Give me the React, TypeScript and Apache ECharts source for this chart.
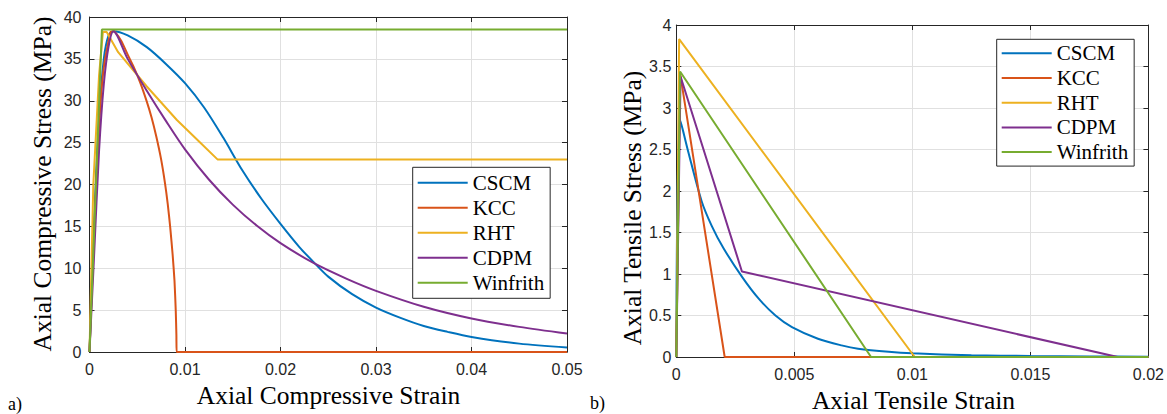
import React, { useEffect, useRef } from "react";
import * as echarts from "echarts";

// ---------- Data ----------
const seriesNames = ["CSCM", "KCC", "RHT", "CDPM", "Winfrith"];
const seriesColors = ["#0072BD", "#D95319", "#EDB120", "#7E2F8E", "#77AC30"];

// a) compressive
const cscmCx = [0, 0.0005, 0.001, 0.0015, 0.002, 0.0025, 0.004, 0.006, 0.008, 0.01, 0.012, 0.014, 0.016, 0.018, 0.02, 0.022, 0.0235, 0.025, 0.0275, 0.03, 0.0325, 0.035, 0.0375, 0.04, 0.045, 0.05];
const cscmCy = [0, 16, 28, 35, 37.8, 38.3, 37.8, 36.4, 34.4, 32.1, 29.2, 25.6, 21.7, 18.3, 15.3, 12.5, 10.7, 9.0, 6.9, 5.3, 4.1, 3.1, 2.4, 1.8, 1.0, 0.55];
const kccCx = [0, 0.0005, 0.001, 0.0015, 0.0022, 0.0025, 0.0033, 0.004, 0.0046, 0.0053, 0.006, 0.0065, 0.007, 0.0075, 0.0079, 0.0082, 0.00845, 0.0087, 0.0089, 0.00903, 0.0091, 0.00912, 0.05];
const kccCy = [0, 15, 27, 34, 38.2, 38.3, 37.2, 35.5, 34.1, 32.2, 29.9, 28.0, 25.7, 23.0, 20.2, 17.6, 14.9, 11.7, 8.5, 5.0, 2.0, 0, 0];
const rhtCx = [0, 0.0004, 0.001, 0.0014, 0.0018, 0.003, 0.006, 0.00915, 0.0115, 0.0134, 0.05];
const rhtCy = [0, 20, 33, 38.2, 38.2, 35.8, 31.7, 27.7, 25.1, 23, 23];
const cdpmCx = [0, 0.0005, 0.001, 0.0015, 0.002, 0.0025, 0.004, 0.006, 0.008, 0.01, 0.0125, 0.015, 0.0175, 0.02, 0.0235, 0.027, 0.03, 0.035, 0.04, 0.045, 0.05];
const cdpmCy = [0, 12, 24, 32, 36.5, 38.3, 35.0, 31.2, 27.6, 24.2, 20.6, 17.6, 15.1, 13.0, 10.6, 8.7, 7.3, 5.4, 4.0, 3.0, 2.2];
const winCx = [0, 0.0013, 0.05];
const winCy = [0, 38.5, 38.5];

// b) tensile
const cscmTx = [0, 0.00016, 0.0005, 0.00107, 0.0015, 0.002, 0.0028, 0.0035, 0.0042, 0.0049, 0.006, 0.007, 0.0077, 0.009, 0.01, 0.0125, 0.015, 0.0175, 0.02];
const cscmTy = [0, 2.86, 2.48, 1.88, 1.58, 1.31, 0.96, 0.70, 0.50, 0.36, 0.22, 0.14, 0.10, 0.062, 0.044, 0.022, 0.012, 0.007, 0.004];
const kccTx = [0, 0.00016, 0.00205, 0.02];
const kccTy = [0, 3.42, 0, 0];
const rhtTx = [0, 0.00012, 0.0101, 0.02];
const rhtTy = [0, 3.83, 0, 0];
const cdpmTx = [0, 0.00018, 0.00278, 0.0187, 0.02];
const cdpmTy = [0, 3.38, 1.03, 0, 0];
const winTx = [0, 0.00016, 0.00825, 0.02];
const winTy = [0, 3.44, 0, 0];

const compX = [cscmCx, kccCx, rhtCx, cdpmCx, winCx];
const compY = [cscmCy, kccCy, rhtCy, cdpmCy, winCy];
const tensX = [cscmTx, kccTx, rhtTx, cdpmTx, winTx];
const tensY = [cscmTy, kccTy, rhtTy, cdpmTy, winTy];
// which curves are smooth (curved) rather than piecewise linear
const compSmooth = [0.3, 0.2, 0, 0.3, 0];
const tensSmooth = [0.3, 0, 0, 0, 0];

const zip = (xs: number[], ys: number[]) => xs.map((x, i) => [x, ys[i]]);

const SERIF = "'Liberation Serif', 'Times New Roman', serif";
const SANS = "'Liberation Sans', Arial, sans-serif";
const AX = "#262626";
const GRID = "#e0e0e0";

export default function App() {
  const ref = useRef<HTMLDivElement>(null);
  useEffect(() => {
    if (!ref.current) return;
    const chart = echarts.init(ref.current, undefined, { renderer: "svg" });

    const mainX = (gi: number, max: number, interval: number) => ({
      type: "value",
      gridIndex: gi,
      min: 0,
      max,
      interval,
      position: "bottom",
      axisLine: { show: true, onZero: false, lineStyle: { color: AX, width: 1 } },
      axisTick: { show: true, inside: true, length: 5, lineStyle: { color: AX } },
      axisLabel: { show: true, margin: 9, fontFamily: SANS, fontSize: 16, color: AX },
      splitLine: { show: true, lineStyle: { color: GRID, width: 1 } },
    });
    const mainY = (gi: number, max: number, interval: number, margin: number) => ({
      type: "value",
      gridIndex: gi,
      min: 0,
      max,
      interval,
      position: "left",
      axisLine: { show: true, onZero: false, lineStyle: { color: AX, width: 1 } },
      axisTick: { show: true, inside: true, length: 5, lineStyle: { color: AX } },
      axisLabel: { show: true, margin, fontFamily: SANS, fontSize: 16, color: AX },
      splitLine: { show: true, lineStyle: { color: GRID, width: 1 } },
    });
    const boxX = (gi: number, max: number, interval: number) => ({
      type: "value",
      gridIndex: gi,
      min: 0,
      max,
      interval,
      position: "top",
      axisLine: { show: true, onZero: false, lineStyle: { color: AX, width: 1 } },
      axisTick: { show: true, inside: true, length: 5, lineStyle: { color: AX } },
      axisLabel: { show: false },
      splitLine: { show: false },
    });
    const boxY = (gi: number, max: number, interval: number) => ({
      type: "value",
      gridIndex: gi,
      min: 0,
      max,
      interval,
      position: "right",
      axisLine: { show: true, onZero: false, lineStyle: { color: AX, width: 1 } },
      axisTick: { show: true, inside: true, length: 5, lineStyle: { color: AX } },
      axisLabel: { show: false },
      splitLine: { show: false },
    });

    const series: any[] = [];
    seriesNames.forEach((name, i) => {
      series.push({
        name,
        type: "line",
        xAxisIndex: 0,
        yAxisIndex: 0,
        data: zip(compX[i], compY[i]),
        showSymbol: false,
        symbol: "none",
        smooth: compSmooth[i] || false,
        lineStyle: { color: seriesColors[i], width: 2 },
        itemStyle: { color: seriesColors[i] },
        z: 2 + i,
      });
    });
    seriesNames.forEach((name, i) => {
      series.push({
        name,
        type: "line",
        xAxisIndex: 2,
        yAxisIndex: 2,
        data: zip(tensX[i], tensY[i]),
        showSymbol: false,
        symbol: "none",
        smooth: tensSmooth[i] || false,
        lineStyle: { color: seriesColors[i], width: 2 },
        itemStyle: { color: seriesColors[i] },
        z: 2 + i,
      });
    });

    const legendBase = {
      orient: "vertical",
      data: seriesNames,
      icon: "rect",
      itemWidth: 50,
      itemHeight: 2,
      borderColor: AX,
      borderWidth: 1,
      backgroundColor: "#ffffff",
      selectedMode: false,
      textStyle: { fontFamily: SERIF, fontSize: 21, color: "#000" },
    };

    const titleStyle = (text: string, size = 25.5) => ({
      text,
      fontFamily: SERIF,
      fontSize: size,
      fill: "#000",
      textAlign: "center",
      textVerticalAlign: "middle",
      align: "center",
      verticalAlign: "middle",
    });

    chart.setOption({
      animation: false,
      backgroundColor: "#ffffff",
      grid: [
        { left: 89.5, top: 17, width: 477.5, height: 335, containLabel: false },
        { left: 676.3, top: 25, width: 474.4, height: 332, containLabel: false },
      ],
      xAxis: [mainX(0, 0.05, 0.01), boxX(0, 0.05, 0.01), mainX(1, 0.02, 0.005), boxX(1, 0.02, 0.005)],
      yAxis: [mainY(0, 40, 5, 8), boxY(0, 40, 5), mainY(1, 4, 0.5, 5), boxY(1, 4, 0.5)],
      legend: [
        { ...legendBase, left: 412.7, top: 167.3, itemGap: 4, padding: [5, 6, 5, 5] },
        { ...legendBase, left: 996.7, top: 39.3, itemGap: 3.7, padding: [3.5, 6, 3.5, 5] },
      ],
      series,
      graphic: [
        { type: "text", x: 42, y: 184, rotation: Math.PI / 2, style: titleStyle("Axial Compressive Stress (MPa)") },
        { type: "text", x: 632, y: 208, rotation: Math.PI / 2, style: titleStyle("Axial Tensile Stress (MPa)") },
        { type: "text", x: 328.5, y: 395, style: titleStyle("Axial Compressive Strain") },
        { type: "text", x: 913.5, y: 400, style: titleStyle("Axial Tensile Strain") },
        { type: "text", x: 8, y: 404, style: { ...titleStyle("a)", 18), textAlign: "left", align: "left" } },
        { type: "text", x: 590, y: 403, style: { ...titleStyle("b)", 18), textAlign: "left", align: "left" } },
      ],
    });
    return () => chart.dispose();
  }, []);
  return (
    <div
      ref={ref}
      style={{ position: "fixed", left: 0, top: 0, width: 1167, height: 414, background: "#fff" }}
    />
  );
}
